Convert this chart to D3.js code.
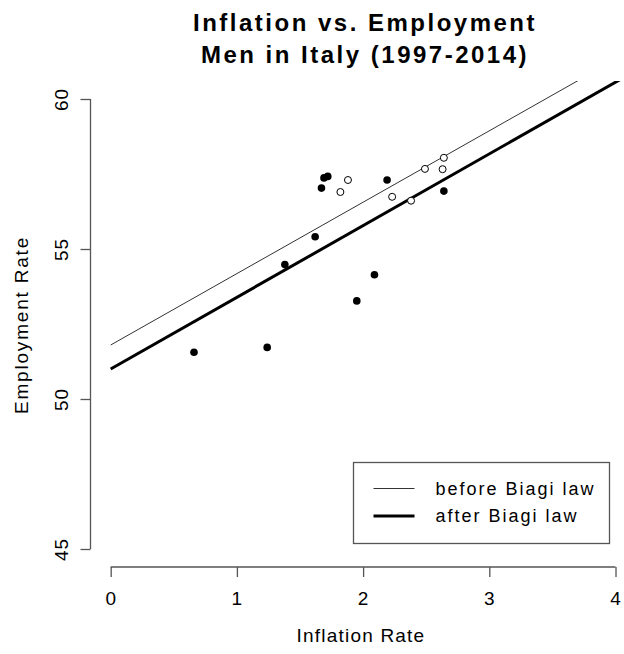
<!DOCTYPE html>
<html>
<head>
<meta charset="utf-8">
<script src="https://cdn.jsdelivr.net/npm/d3@7"></script>
<style>
  body { margin: 0; background: #fff; }
  svg text { font-family: "Liberation Sans", Arial, sans-serif; fill: #000; }
</style>
</head>
<body>
<div id="chart"></div>
<script>
// points before the Biagi law (filled) and after (open)
const beforeInflation = [0.66, 1.24, 1.38, 1.62, 1.67, 1.69, 1.72, 1.95, 2.09, 2.19, 2.64];
const beforeEmployment = [51.56, 51.72, 54.48, 55.41, 57.03, 57.37, 57.42, 53.27, 54.14, 57.30, 56.93];
const afterInflation = [1.82, 1.88, 2.23, 2.38, 2.49, 2.63, 2.64];
const afterEmployment = [56.90, 57.30, 56.74, 56.61, 57.67, 57.66, 58.04];

// fitted lines: intercept and slope
const lineNames = ["before Biagi law", "after Biagi law"];
const lineIntercepts = [51.80, 51.00];
const lineSlopes = [2.38, 2.39];

const xTicks = [0, 1, 2, 3, 4];
const yTicks = [45, 50, 55, 60];

const width = 624, height = 654;

const svg = d3.select("#chart").append("svg")
    .attr("width", width)
    .attr("height", height);

const xScale = d3.scaleLinear().domain([-0.16, 4.16]).range([90.5, 635.7]);
const yScale = d3.scaleLinear().domain([44.4, 60.6]).range([567, 81]);

// title
const title = svg.append("g").attr("font-weight", "bold")
    .attr("font-size", "24px").attr("text-anchor", "middle")
    .style("letter-spacing", "2.5px");
title.append("text").attr("x", 365).attr("y", 31).text("Inflation vs. Employment");
title.append("text").attr("x", 365).attr("y", 63).text("Men in Italy (1997-2014)");

// clip to plot region
svg.append("clipPath").attr("id", "plotclip")
  .append("rect")
    .attr("x", xScale.range()[0]).attr("y", yScale.range()[1])
    .attr("width", xScale.range()[1] - xScale.range()[0])
    .attr("height", yScale.range()[0] - yScale.range()[1]);

// x axis
const xAxisG = svg.append("g")
    .attr("transform", "translate(0," + yScale(44.4) + ")")
    .call(d3.axisBottom(xScale).tickValues(xTicks).tickSize(10).tickPadding(0).tickFormat(d3.format("d")));
xAxisG.select(".domain").remove();
xAxisG.append("line")
    .attr("x1", xScale(xTicks[0])).attr("x2", xScale(xTicks[xTicks.length - 1]))
    .attr("stroke", "currentColor");
xAxisG.selectAll("line").attr("stroke", "#555").attr("stroke-width", 1.3);
xAxisG.selectAll(".tick text")
    .attr("y", 38).attr("dy", 0)
    .attr("font-size", "19px").style("letter-spacing", "1px")
    .attr("fill", "#000");

// y axis
const yAxisG = svg.append("g")
    .attr("transform", "translate(" + xScale(-0.16) + ",0)")
    .call(d3.axisLeft(yScale).tickValues(yTicks).tickSize(10).tickFormat(d3.format("d")));
yAxisG.select(".domain").remove();
yAxisG.append("line")
    .attr("y1", yScale(yTicks[0])).attr("y2", yScale(yTicks[yTicks.length - 1]))
    .attr("stroke", "currentColor");
yAxisG.selectAll("line").attr("stroke", "#555").attr("stroke-width", 1.3);
yAxisG.selectAll(".tick text")
    .attr("transform", "rotate(-90)")
    .attr("x", 0).attr("y", -22.5).attr("dy", 0)
    .attr("text-anchor", "middle")
    .attr("font-size", "19px").style("letter-spacing", "1px")
    .attr("fill", "#000");

// axis titles
svg.append("text")
    .attr("x", 361).attr("y", 642)
    .attr("text-anchor", "middle").attr("font-size", "19px")
    .style("letter-spacing", "1.2px")
    .text("Inflation Rate");
svg.append("text")
    .attr("transform", "translate(28,325) rotate(-90)")
    .attr("text-anchor", "middle").attr("font-size", "19px")
    .style("letter-spacing", "1.8px")
    .text("Employment Rate");

// fitted lines
const lineWidths = [1, 3];
const lineColors = ["#333", "#000"];
const plot = svg.append("g").attr("clip-path", "url(#plotclip)");
const xDom = xScale.domain();
plot.selectAll("line.fit")
    .data(lineNames)
  .enter().append("line")
    .attr("class", "fit")
    .attr("x1", (d, i) => xScale(0))
    .attr("y1", (d, i) => yScale(lineIntercepts[i]))
    .attr("x2", (d, i) => xScale(xDom[1]))
    .attr("y2", (d, i) => yScale(lineIntercepts[i] + lineSlopes[i] * xDom[1]))
    .attr("stroke", (d, i) => lineColors[i])
    .attr("stroke-width", (d, i) => lineWidths[i]);

// points
plot.selectAll("circle.before")
    .data(beforeInflation)
  .enter().append("circle")
    .attr("class", "before")
    .attr("cx", d => xScale(d))
    .attr("cy", (d, i) => yScale(beforeEmployment[i]))
    .attr("r", 3.8)
    .attr("fill", "#000");
plot.selectAll("circle.after")
    .data(afterInflation)
  .enter().append("circle")
    .attr("class", "after")
    .attr("cx", d => xScale(d))
    .attr("cy", (d, i) => yScale(afterEmployment[i]))
    .attr("r", 3.5)
    .attr("fill", "#fff")
    .attr("stroke", "#000")
    .attr("stroke-width", 1);

// legend
const legend = svg.append("g").attr("transform", "translate(353.5,462.5)");
legend.append("rect")
    .attr("width", 256).attr("height", 81)
    .attr("fill", "#fff").attr("stroke", "#555").attr("stroke-width", 1.3);
const item = legend.selectAll("g.item")
    .data(lineNames)
  .enter().append("g")
    .attr("class", "item")
    .attr("transform", (d, i) => "translate(0," + (26 + i * 27.5) + ")");
item.append("line")
    .attr("x1", 20).attr("x2", 61)
    .attr("stroke", (d, i) => lineColors[i])
    .attr("stroke-width", (d, i) => lineWidths[i]);
item.append("text")
    .attr("x", 82).attr("y", 6)
    .attr("font-size", "18px").style("letter-spacing", "2px")
    .text(d => d);
</script>
</body>
</html>
